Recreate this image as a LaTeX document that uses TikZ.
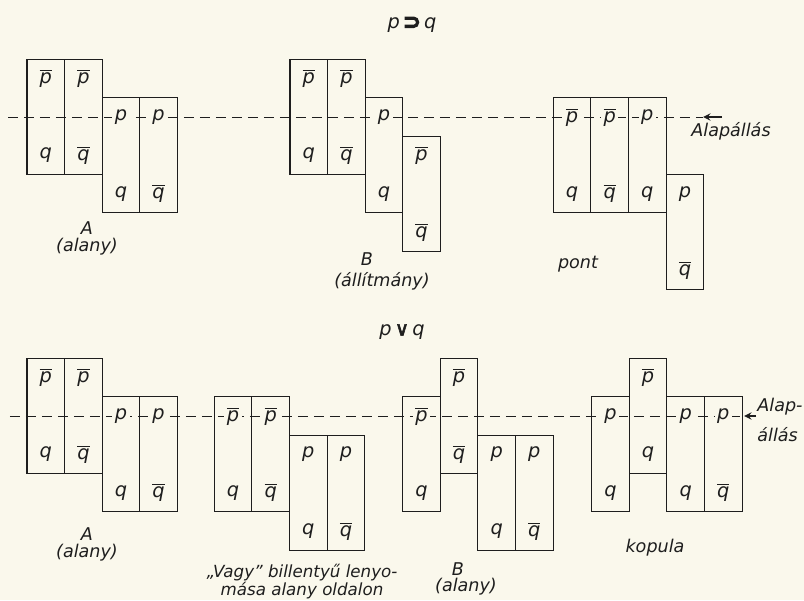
\documentclass[tikz,border=0pt]{standalone}
\usepackage{fontspec}
\setmainfont{DejaVu Sans}
\usepackage{xcolor}
\usepackage{tikz}
\usetikzlibrary{arrows, positioning}
\definecolor{paper}{RGB}{250,248,236}
\definecolor{ink}{RGB}{30,30,30}
\newcommand{\nb}[1]{$\overline{\mbox{#1}}$}

\begin{document}
\begin{tikzpicture}[node distance=0.752cm, every node/.style={text=ink}]
        % Column, letter and caption styles
        \tikzstyle{column} = [rectangle, draw=ink, line width=0.6pt,
                              minimum width=0.752cm, minimum height=2.3cm, inner sep=0pt]
        \tikzstyle{letter} = [fill=paper, inner sep=1.5pt, font=\fontsize{11}{12}\selectfont\itshape]
        \tikzstyle{caption} = [inner sep=0pt, align=center, font=\fontsize{10}{10}\selectfont\itshape]
        \tikzstyle{dashline} = [draw=ink, line width=0.45pt, dash pattern=on 0.2cm off 0.12cm]
        \tikzstyle{arrow} = [draw=ink, line width=0.9pt, ->, >=stealth]
        \tikzstyle{formula} = [inner sep=0pt, font=\fontsize{11}{11}\selectfont\itshape]

        \fill [paper] (0,0) rectangle (16.08,12);
        \useasboundingbox (0,0) rectangle (16.08,12);

        % p implies q
        \node (implies) [formula] at (8.24,11.5) {p\,{\upshape\bfseries\fontsize{12}{12}\selectfont\addfontfeatures{FakeBold=5}⊃}\,q};

        \coordinate (topstart) at (0.16,9.66);
        \coordinate (toptip) at (14.06,9.66);
        \coordinate (toptail) at (14.44,9.66);
        \draw [dashline] (topstart) -- (toptip);
        \draw [arrow] (toptail) -- (toptip);
        \node (topalap) [caption] at (14.62,9.38) {Alapállás};

        % A (alany)
        \node (ta1) [column] at (0.916,9.66) {};
        \node (ta2) [column, right of=ta1] {};
        \node (ta3) [column, right of=ta2, yshift=-0.767cm] {};
        \node (ta4) [column, right of=ta3] {};
        \path (ta1) +(0,0.767) node [letter] {\nb{p}} +(0,-0.767) node [letter] {q};
        \path (ta2) +(0,0.767) node [letter] {\nb{p}} +(0,-0.767) node [letter] {\nb{q}};
        \path (ta3) +(0,0.767) node [letter] {p} +(0,-0.767) node [letter] {q};
        \path (ta4) +(0,0.767) node [letter] {p} +(0,-0.767) node [letter] {\nb{q}};
        \node (tacap) [caption] at (1.74,7.23) {A\\(alany)};

        % B (allitmany)
        \node (tb1) [column] at (6.176,9.66) {};
        \node (tb2) [column, right of=tb1] {};
        \node (tb3) [column, right of=tb2, yshift=-0.767cm] {};
        \node (tb4) [column, right of=tb3, yshift=-0.767cm] {};
        \path (tb1) +(0,0.767) node [letter] {\nb{p}} +(0,-0.767) node [letter] {q};
        \path (tb2) +(0,0.767) node [letter] {\nb{p}} +(0,-0.767) node [letter] {\nb{q}};
        \path (tb3) +(0,0.767) node [letter] {p} +(0,-0.767) node [letter] {q};
        \path (tb4) +(0,0.767) node [letter] {\nb{p}} +(0,-0.767) node [letter] {\nb{q}};
        \node (tbcap) [caption] at (7.34,6.82) {B};
        \node (tbcap2) [caption] at (7.64,6.38) {(állítmány)};

        % pont
        \node (tp1) [column] at (11.442,8.893) {};
        \node (tp2) [column, right of=tp1] {};
        \node (tp3) [column, right of=tp2] {};
        \node (tp4) [column, right of=tp3, yshift=-1.534cm] {};
        \path (tp1) +(0,0.767) node [letter] {\nb{p}} +(0,-0.767) node [letter] {q};
        \path (tp2) +(0,0.767) node [letter] {\nb{p}} +(0,-0.767) node [letter] {\nb{q}};
        \path (tp3) +(0,0.767) node [letter] {p} +(0,-0.767) node [letter] {q};
        \path (tp4) +(0,0.767) node [letter] {p} +(0,-0.767) node [letter] {\nb{q}};
        \node (tpcap) [caption] at (11.56,6.72) {pont};

        % p or q
        \node (vel) [formula] at (8.04,5.36) {p\,{\upshape\addfontfeatures{FakeBold=3}∨}\,q};

        \coordinate (botstart) at (0.2,3.68);
        \coordinate (bottip) at (14.88,3.68);
        \coordinate (bottail) at (15.12,3.68);
        \draw [dashline] (botstart) -- (bottip);
        \draw [arrow] (bottail) -- (bottip);
        \node (botalap) [caption, align=left, anchor=west] at (15.14,3.6) {Alap-\\[6pt]állás};

        % A (alany)
        \node (ba1) [column] at (0.916,3.68) {};
        \node (ba2) [column, right of=ba1] {};
        \node (ba3) [column, right of=ba2, yshift=-0.767cm] {};
        \node (ba4) [column, right of=ba3] {};
        \path (ba1) +(0,0.767) node [letter] {\nb{p}} +(0,-0.767) node [letter] {q};
        \path (ba2) +(0,0.767) node [letter] {\nb{p}} +(0,-0.767) node [letter] {\nb{q}};
        \path (ba3) +(0,0.767) node [letter] {p} +(0,-0.767) node [letter] {q};
        \path (ba4) +(0,0.767) node [letter] {p} +(0,-0.767) node [letter] {\nb{q}};
        \node (bacap) [caption] at (1.74,1.11) {A\\(alany)};

        % Vagy billentyu
        \node (bv1) [column] at (4.662,2.913) {};
        \node (bv2) [column, right of=bv1] {};
        \node (bv3) [column, right of=bv2, yshift=-0.767cm] {};
        \node (bv4) [column, right of=bv3] {};
        \path (bv1) +(0,0.767) node [letter] {\nb{p}} +(0,-0.767) node [letter] {q};
        \path (bv2) +(0,0.767) node [letter] {\nb{p}} +(0,-0.767) node [letter] {\nb{q}};
        \path (bv3) +(0,0.767) node [letter] {p} +(0,-0.767) node [letter] {q};
        \path (bv4) +(0,0.767) node [letter] {p} +(0,-0.767) node [letter] {\nb{q}};
        \node (bvcap) [caption, font=\fontsize{9.5}{10}\selectfont\itshape] at (6.04,0.37) {„Vagy” billentyű lenyo-\\mása alany oldalon};

        % B (alany)
        \node (bb1) [column] at (8.43,2.913) {};
        \node (bb2) [column, right of=bb1, yshift=0.767cm] {};
        \node (bb3) [column, right of=bb2, yshift=-1.534cm] {};
        \node (bb4) [column, right of=bb3] {};
        \path (bb1) +(0,0.767) node [letter] {\nb{p}} +(0,-0.767) node [letter] {q};
        \path (bb2) +(0,0.767) node [letter] {\nb{p}} +(0,-0.767) node [letter] {\nb{q}};
        \path (bb3) +(0,0.767) node [letter] {p} +(0,-0.767) node [letter] {q};
        \path (bb4) +(0,0.767) node [letter] {p} +(0,-0.767) node [letter] {\nb{q}};
        \node (bbcap) [caption] at (9.16,0.62) {B};
        \node (bbcap2) [caption] at (9.32,0.26) {(alany)};

        % kopula
        \node (bk1) [column] at (12.21,2.913) {};
        \node (bk2) [column, right of=bk1, yshift=0.767cm] {};
        \node (bk3) [column, right of=bk2, yshift=-0.767cm] {};
        \node (bk4) [column, right of=bk3] {};
        \path (bk1) +(0,0.767) node [letter] {p} +(0,-0.767) node [letter] {q};
        \path (bk2) +(0,0.767) node [letter] {\nb{p}} +(0,-0.767) node [letter] {q};
        \path (bk3) +(0,0.767) node [letter] {p} +(0,-0.767) node [letter] {q};
        \path (bk4) +(0,0.767) node [letter] {p} +(0,-0.767) node [letter] {\nb{q}};
        \node (bkcap) [caption] at (13.1,1.04) {kopula};
    \end{tikzpicture}
\end{document}
